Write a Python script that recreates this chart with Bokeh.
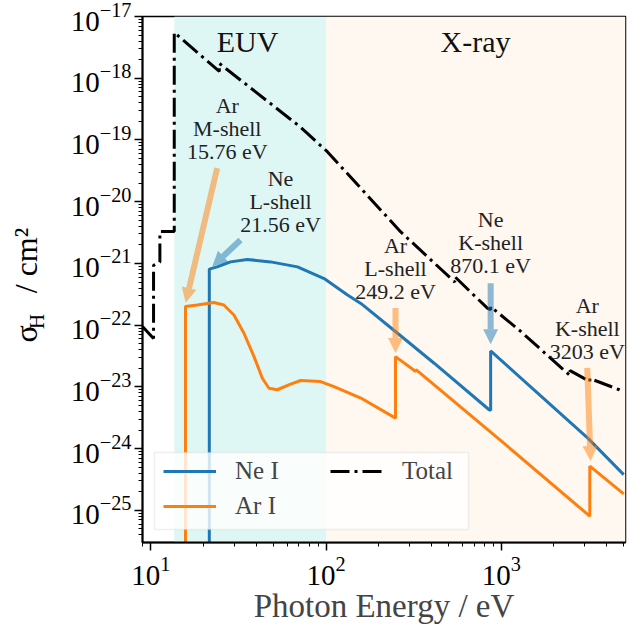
import math
from bokeh.plotting import figure
from bokeh.models import (Range1d, FixedTicker, LogTickFormatter, BoxAnnotation, Label, Title,
                          Arrow, NormalHead, Legend, LegendItem)
from bokeh.embed import file_html
from bokeh.resources import INLINE

# ---------------- data ----------------
# Ne I photoionisation cross-section per H (cm^2) vs photon energy (eV)
ne_E = [21.56, 21.56, 23.9, 28.5, 35.5, 48.3, 68.7, 97.5, 132.6, 158, 256, 414, 853, 870.1, 870.1, 3119, 5000]
ne_sigma = [1e-26, 8.1e-22, 8.8e-22, 1.06e-21, 1.16e-21, 1.06e-21, 8.8e-22, 5.7e-22, 3.08e-22, 2.25e-22,
            7.4e-23, 2.42e-23, 4.27e-24, 4.15e-24, 3.83e-23, 1.48e-24, 3.8e-25]

# Ar I
ar_E = [15.76, 15.76, 18.4, 22.9, 26.1, 29.8, 34.0, 38.8, 43.3, 47.2, 52.7, 62.8, 71.6, 93, 111, 158,
        249.2, 249.2, 325, 326, 995, 3203, 3203, 5000]
ar_sigma = [1e-26, 2.0e-22, 2.12e-22, 2.33e-22, 2.12e-22, 1.46e-22, 7.4e-23, 3.1e-23, 1.38e-23, 9.5e-24,
            9.0e-24, 1.11e-23, 1.27e-23, 1.22e-23, 1.01e-23, 6.6e-24,
            3.12e-24, 3.1e-23, 1.78e-23, 1.9e-23, 1.35e-24, 8.05e-26, 5.2e-25, 1.85e-25]

# Total
tot_E = [8.96, 10.36, 10.36, 11.26, 11.26, 13.6, 13.6, 24.59, 24.59, 71.6, 102, 267, 543, 543, 836,
         870.1, 870.1, 1297, 2470, 2470, 3203, 3203, 4720, 5000]
tot_sigma = [9.5e-23, 6.1e-23, 9.3e-22, 1.06e-21, 3.3e-21, 3.3e-21, 5.5e-18, 1.29e-18, 1.74e-18, 1.61e-19,
             6.4e-20, 3.24e-21, 5.0e-22, 6.1e-22, 1.87e-22, 1.78e-22, 2.0e-22, 7.85e-23,
             1.53e-23, 1.84e-23, 1.22e-23, 1.37e-23, 9.0e-24, 8.4e-24]

# spectral bands
band_names = ["EUV", "X-ray"]
band_lo = [13.6, 100.0]
band_hi = [100.0, 5120.0]
band_colors = ["#dff7f4", "#fef8f1"]
band_label_E = [35.6, 713.0]
band_label_sigma = [4.0e-18, 4.0e-18]

# edge annotations
ann_text = ["Ar\nM-shell\n15.76 eV", "Ne\nL-shell\n21.56 eV", "Ar\nL-shell\n249.2 eV",
            "Ne\nK-shell\n870.1 eV", "Ar\nK-shell\n3203 eV"]
ann_species = ["Ar", "Ne", "Ar", "Ne", "Ar"]
ann_text_E = [27.3, 55.0, 249.2, 870.1, 3100.0]
ann_text_sigma = [1.55e-19, 1.02e-20, 8.3e-22, 2.19e-21, 8.9e-23]
arrow_E0 = [23.9, 32.5, 249.2, 870.1, 3097.0]
arrow_s0 = [3.5e-20, 2.4e-21, 1.9e-22, 4.8e-22, 2.04e-23]
arrow_E1 = [15.8, 22.4, 249.2, 870.1, 3236.0]
arrow_s1 = [2.3e-22, 8.9e-22, 3.55e-23, 4.9e-23, 6.3e-25]

x_major = [10, 100, 1000]
y_major = [10.0 ** k for k in range(-25, -16)]

BLUE = "#1f77b4"
ORANGE = "#ff7f0e"
FONT = "Liberation Serif"

# ---------------- figure ----------------
p = figure(width=641, height=626, x_axis_type="log", y_axis_type="log",
           x_range=Range1d(8.96, 5120), y_range=Range1d(10 ** -25.52, 1e-17),
           output_backend="svg", toolbar_location=None,
           min_border_left=142, min_border_right=16, min_border_top=16, min_border_bottom=84)
p.background_fill_color = "white"
p.border_fill_color = "white"
p.outline_line_color = "black"
p.outline_line_width = 1.5
p.grid.visible = False

for lo, hi, c in zip(band_lo, band_hi, band_colors):
    p.add_layout(BoxAnnotation(left=lo, right=hi, fill_color=c, fill_alpha=1.0,
                               line_alpha=0, level="underlay"))

for name, xe, ys in zip(band_names, band_label_E, band_label_sigma):
    p.add_layout(Label(x=xe, y=ys, text=name, text_align="center", text_baseline="middle",
                       text_font=FONT, text_font_size="30px", text_color="#111111"))

r_ne = p.line(ne_E, ne_sigma, line_color=BLUE, line_width=3)
r_ar = p.line(ar_E, ar_sigma, line_color=ORANGE, line_width=3)
r_tot = p.line(tot_E, tot_sigma, line_color="black", line_width=3, line_dash="19 5 3 5")

for sp, x0, y0, x1, y1 in zip(ann_species, arrow_E0, arrow_s0, arrow_E1, arrow_s1):
    c = ORANGE if sp == "Ar" else BLUE
    p.add_layout(Arrow(x_start=x0, y_start=y0, x_end=x1, y_end=y1,
                       line_color=c, line_alpha=0.5, line_width=6,
                       end=NormalHead(size=15, fill_color=c, fill_alpha=0.5, line_alpha=0)))

for t, xe, ys in zip(ann_text, ann_text_E, ann_text_sigma):
    p.add_layout(Label(x=xe, y=ys, text=t, text_align="center", text_baseline="middle",
                       text_font=FONT, text_font_size="22px", text_line_height=0.92,
                       text_color="#222222"))

# axes
for ax, ticks, lo, hi in ((p.xaxis[0], x_major, 0, 4), (p.yaxis[0], y_major, -26, -16)):
    minors = []
    for e in range(lo, hi):
        for k in range(2, 10):
            minors.append(k * 10.0 ** e)
    ax.ticker = FixedTicker(ticks=ticks, minor_ticks=minors)
    ax.formatter = LogTickFormatter()
    ax.major_label_text_font = FONT
    ax.major_label_text_font_size = "29px"
    ax.major_label_text_color = "black"
    ax.axis_line_width = 2
    ax.major_tick_line_width = 1.5
    ax.minor_tick_line_width = 1
    ax.major_tick_out = 8
    ax.major_tick_in = 0
    ax.minor_tick_out = 4
    ax.minor_tick_in = 0
p.xaxis.major_label_standoff = 6
p.yaxis.major_label_standoff = 3

p.xaxis.axis_label = "Photon Energy / eV"
p.xaxis.axis_label_text_font = FONT
p.xaxis.axis_label_text_font_size = "33px"
p.xaxis.axis_label_text_font_style = "normal"
p.xaxis.axis_label_standoff = 0

# y axis label: subscript "H" as the axis label, sigma and units as a title overlapping it
p.yaxis.axis_label = "H" + "\u2003" * 4
p.yaxis.axis_label_text_font = FONT
p.yaxis.axis_label_text_font_size = "21px"
p.yaxis.axis_label_text_font_style = "normal"
p.yaxis.axis_label_text_color = "black"
p.yaxis.axis_label_standoff = 19
p.add_layout(Title(text="σ\u2003/ cm²", align="left", offset=200, vertical_align="bottom",
                   standoff=-44, text_font=FONT, text_font_size="32px", text_font_style="normal",
                   text_color="black"), "left")

# legend: frame box + two columns
p.add_layout(BoxAnnotation(left=12, right=326, bottom=13, top=90, left_units="screen", right_units="screen",
                           bottom_units="screen", top_units="screen", fill_color="white", fill_alpha=0.8,
                           line_color="#cccccc", line_width=1.5, level="annotation"))
common = dict(label_text_font=FONT, label_text_font_size="25px", glyph_width=53, glyph_height=24,
              label_standoff=19, spacing=7, padding=9, margin=0, border_line_alpha=0,
              background_fill_alpha=0)
leg1 = Legend(items=[LegendItem(label="Ne I", renderers=[r_ne]), LegendItem(label="Ar I", renderers=[r_ar])],
              location=(12, 13), **common)
leg2 = Legend(items=[LegendItem(label="Total", renderers=[r_tot])], location=(179, 48), **common)
p.add_layout(leg1)
p.add_layout(leg2)

open("out.html", "w").write(file_html(p, INLINE))
